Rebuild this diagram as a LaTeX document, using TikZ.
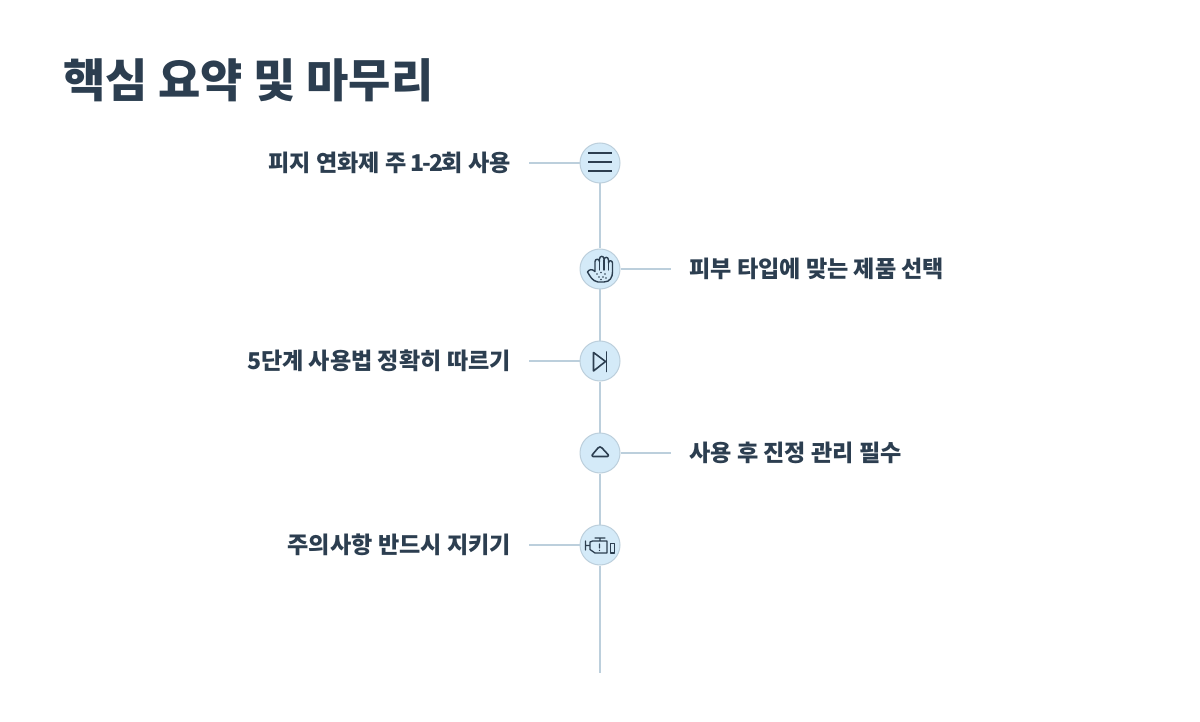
\documentclass[tikz,border=0pt]{standalone}
\usepackage{fontspec}
\setmainfont{Noto Sans CJK KR}
\definecolor{ink}{HTML}{2C3E50}
\definecolor{rail}{HTML}{BCCFDC}
\definecolor{disc}{HTML}{D4EAF8}
\begin{document}
\begin{tikzpicture}[x=1pt,y=-1pt,
  dot/.style={circle,draw=rail,fill=disc,line width=1pt,minimum size=40pt,inner sep=0pt},
  conn/.style={draw=rail,line width=2pt},
  lab/.style={text=ink,font=\fontsize{23.1}{27}\selectfont\bfseries,inner sep=0pt},
  ico/.style={draw=ink,line width=1.6pt,line cap=round,line join=round},
  title/.style={text=ink,font=\fontsize{46}{54}\selectfont\bfseries,inner sep=0pt}]
\useasboundingbox[fill=white] (0,0) rectangle (1200,722);
\node[title,anchor=west] (t) at (63,80) {핵심 요약 및 마무리};
\coordinate (e) at (600,672.5);
\coordinate (l1) at (529,163);
\coordinate (r2) at (671,269);
\coordinate (l3) at (529,361);
\coordinate (r4) at (671,453);
\coordinate (l5) at (529,545);
\node[dot] (n1) at (600,163) {};
\node[dot] (n2) at (600,269) {};
\node[dot] (n3) at (600,361) {};
\node[dot] (n4) at (600,453) {};
\node[dot] (n5) at (600,545) {};
\draw[conn] (n1) -- (n2);
\draw[conn] (n2) -- (n3);
\draw[conn] (n3) -- (n4);
\draw[conn] (n4) -- (n5);
\draw[conn] (n5) -- (e);
\draw[conn] (l1) -- (n1);
\draw[conn] (n2) -- (r2);
\draw[conn] (l3) -- (n3);
\draw[conn] (n4) -- (r4);
\draw[conn] (l5) -- (n5);
\node[lab,anchor=east] (a1) at (511,163) {피지 연화제 주 \kern-1.5pt 1\kern-2pt-\kern-2pt 2\kern-1.5pt 회 사용};
\node[lab,anchor=west] (a2) at (689,269) {피부 타입에 맞는 제품 선택};
\node[lab,anchor=east] (a3) at (511,361) {5단계 사용법 정확히 따르기};
\node[lab,anchor=west] (a4) at (689,453) {사용 후 진정 관리 필수};
\node[lab,anchor=east] (a5) at (511,545) {주의사항 반드시 지키기};
% menu icon
\draw[ico,line cap=butt] (588,153) -- (612,153) (588,162) -- (612,162) (588,171) -- (612,171);
% hand icon
\draw[ico,line width=1.4pt] (595,271.5) .. controls (592,268.5) and (589,269.5) .. (587.5,272)
  .. controls (590,276) and (592,281) .. (598,282)
  -- (604,282) .. controls (610,282) and (612.5,277) .. (612.5,272)
  -- (612.5,263) .. controls (612.5,260) and (608.5,260) .. (608.5,263)
  -- (608.5,260) .. controls (608.5,256.5) and (604,256.5) .. (604,260)
  -- (604,259) .. controls (604,255.5) and (599.5,255.5) .. (599.5,259)
  -- (599.5,261.5) .. controls (599.5,258.5) and (595,258.5) .. (595,261.5) -- cycle;
\draw[ico,line width=1.4pt] (599.5,261) -- (599.5,270) (604,260) -- (604,270) (608.5,263) -- (608.5,270);
\foreach \p/\q in {597/274,601/272.5,605/274,599/277,603/277,601/279.5,606/278}
  \fill[ink] (\p,\q) circle (0.8pt);
% skip icon
\draw[ico] (593.5,352.5) -- (605.5,361.5) -- (593.5,371) -- cycle;
\draw[ico] (606.5,352) -- (606.5,371.5);
% cloud/triangle icon
\draw[ico] (593,456.5) -- (607.5,456.5) .. controls (608.8,456.5) and (608.5,455) .. (608,454.5)
  -- (602,448) .. controls (600.5,446.6) and (599.5,446.6) .. (598,448)
  -- (592.5,454.5) .. controls (592,455) and (591.7,456.5) .. (593,456.5) -- cycle;
% engine icon
\draw[ico,line width=1.3pt] (585.5,541) -- (585.5,550) (585.5,545.5) -- (590,545.5)
  (590,542) -- (592.5,541) -- (607,541) -- (607,553) -- (595,553) -- (590,549.5) -- cycle
  (595,538) -- (605,538) (600,538) -- (600,541)
  (599.5,544) -- (599.5,548) (599.5,550.3) -- (599.5,550.5);
\draw[ico,line width=1.3pt] (610.7,543.5) rectangle (614.7,553);
\end{tikzpicture}
\end{document}
